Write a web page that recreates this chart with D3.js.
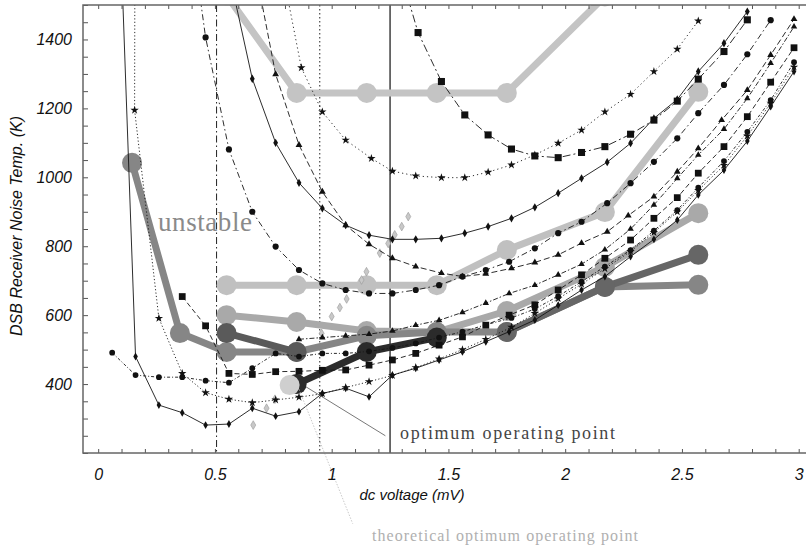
<!DOCTYPE html>
<html lang="en">
<head>
<meta charset="UTF-8">
<title>DSB receiver noise temperature</title>
<style>
  body { margin: 0; background: #fff; }
  .lbl { font-family: "Liberation Sans", Arial, sans-serif; font-style: italic; fill: #111; }
  .note { font-family: "Liberation Serif", "Times New Roman", serif; }
  .frame { fill: none; stroke: #666; stroke-width: 1.5; }
  .tick line { stroke: #555; }
</style>
</head>
<body>
<svg></svg>
<script src="https://d3js.org/d3.v7.min.js"></script>
<script>
// tick labels
const yTicks = [400, 600, 800, 1000, 1200, 1400];
const xTicks = [0, 0.5, 1, 1.5, 2, 2.5, 3];
// vertical reference lines (mV)
const refVolts = [0.507, 0.949, 1.25];

// thin measured curves: [dc voltage (mV), noise temperature (K)]
const curveL1 = [[0.105,1520],[0.16,480],[0.26,339],[0.36,317],[0.46,281],[0.56,284],[0.66,330],[0.76,307],[0.86,320],[0.96,373],[1.06,388],[1.16,363],[1.26,426],[1.36,446],[1.46,470],[1.56,494],[1.66,523],[1.76,552],[1.87,586],[1.97,629],[2.07,673],[2.17,712],[2.28,770],[2.38,820],[2.48,876],[2.57,949],[2.68,1021],[2.78,1105],[2.88,1205],[2.98,1307]];
const curveL2 = [[0.157,1560],[0.156,1195],[0.26,591],[0.36,431],[0.46,375],[0.56,356],[0.66,346],[0.76,354],[0.86,362],[0.96,372],[1.06,390],[1.16,407],[1.26,425],[1.36,448],[1.46,473],[1.56,500],[1.66,530],[1.77,565],[1.87,605],[1.97,648],[2.07,690],[2.17,735],[2.28,785],[2.38,840],[2.48,900],[2.57,962],[2.68,1035],[2.78,1120],[2.88,1215],[2.98,1320]];
const curveL3 = [[0.36,654],[0.46,569],[0.56,431],[0.66,428],[0.76,436],[0.86,437],[0.96,440],[1.06,441],[1.16,455],[1.26,470],[1.36,489],[1.46,513],[1.56,537],[1.66,571],[1.76,600],[1.87,630],[1.97,673],[2.07,717],[2.17,765],[2.28,818],[2.38,881],[2.48,941],[2.57,1012],[2.68,1089],[2.78,1176],[2.88,1276],[2.98,1376]];
const curveL4 = [[0.36,1900],[0.46,1406],[0.56,1081],[0.66,900],[0.76,799],[0.86,731],[0.96,692],[1.06,673],[1.16,663],[1.26,663],[1.36,673],[1.46,687],[1.56,712],[1.66,731],[1.76,755],[1.87,794],[1.97,838],[2.07,871],[2.18,925],[2.28,983],[2.38,1045],[2.48,1113],[2.57,1186],[2.68,1268],[2.78,1357],[2.88,1456]];
const curveL5 = [[0.66,1650],[0.76,1299],[0.86,1094],[0.96,958],[1.06,861],[1.16,806],[1.26,765],[1.36,741],[1.47,722],[1.56,712],[1.66,720],[1.77,736],[1.87,753],[1.97,775],[2.07,809],[2.18,842],[2.27,889],[2.38,944],[2.48,1016],[2.57,1084],[2.67,1166],[2.78,1253],[2.88,1355],[2.98,1459]];
const curveL6 = [[0.56,1595],[0.66,1286],[0.76,1100],[0.86,984],[0.96,910],[1.06,861],[1.16,832],[1.26,820],[1.36,820],[1.47,823],[1.57,838],[1.67,857],[1.77,881],[1.87,913],[1.97,954],[2.07,997],[2.18,1044],[2.28,1099],[2.38,1171],[2.48,1226],[2.57,1307],[2.68,1389],[2.78,1481]];
const curveL7 = [[1.27,1650],[1.37,1420],[1.47,1278],[1.57,1181],[1.67,1123],[1.77,1082],[1.87,1062],[1.97,1057],[2.07,1072],[2.17,1089],[2.28,1125],[2.38,1166],[2.48,1221],[2.57,1285],[2.68,1365],[2.78,1457]];
const curveL8 = [[0.76,1700],[0.87,1318],[0.96,1190],[1.06,1108],[1.17,1055],[1.26,1018],[1.36,1004],[1.47,999],[1.57,999],[1.67,1015],[1.77,1036],[1.87,1065],[1.97,1099],[2.07,1137],[2.17,1190],[2.28,1241],[2.38,1307],[2.48,1372],[2.57,1454]];
const curveL9 = [[0.86,530],[0.96,535],[1.06,540],[1.16,545],[1.26,554],[1.36,571],[1.46,585],[1.56,608],[1.66,635],[1.76,663],[1.87,687],[1.97,717],[2.07,748],[2.17,790],[2.28,850],[2.38,920],[2.48,997],[2.57,1065],[2.68,1140],[2.78,1229],[2.88,1331],[2.98,1437]];
const curveSa = [[0.06,491],[0.16,426],[0.26,420],[0.36,420],[0.46,410],[0.56,404],[0.66,446],[0.76,489],[0.86,480],[0.96,489],[1.06,489],[1.16,495],[1.26,505],[1.36,518],[1.46,535],[1.56,552],[1.66,572],[1.77,592],[1.87,618],[1.97,655],[2.07,697],[2.17,741],[2.28,789],[2.38,845],[2.48,905],[2.57,970],[2.68,1047],[2.78,1132],[2.88,1224],[2.98,1334]];
// theoretical optimum points
const theoryPts = [[0.664,281],[0.721,330],[0.757,356],[0.957,547],[1.0,596],[1.035,622],[1.064,647],[1.128,702],[1.149,726],[1.206,780],[1.242,808],[1.27,833],[1.30,857],[1.328,886]];

// thick grey curves (big circles)
const thickT1 = [[0.55,1528],[0.85,1245],[1.15,1245],[1.45,1245],[1.75,1245],[2.17,1525]];
const thickT2 = [[0.55,687],[0.85,687],[1.15,687],[1.45,687],[1.75,789],[2.17,899],[2.57,1248]];
const thickT3 = [[0.55,600],[0.85,580],[1.15,554],[1.45,551],[1.75,612],[2.17,740],[2.57,896]];
const thickU  = [[0.145,1042],[0.35,548],[0.55,493],[0.85,493],[1.15,540],[1.45,551],[1.75,551],[2.17,682],[2.57,688]];
const thickD2 = [[0.55,548],[0.85,493]];
const thickR  = [[1.75,551],[2.17,682],[2.57,775]];
const thickD1 = [[0.85,400],[1.15,493],[1.45,535]];
const thickPt = [[0.82,397]];

const thickList = [
  {data: thickT1, color: "#c4c4c4"},
  {data: thickT2, color: "#c0c0c0"},
  {data: thickT3, color: "#a9a9a9"},
  {data: thickU,  color: "#868686"},
  {data: thickR,  color: "#666"},
  {data: thickD2, color: "#5a5a5a"},
  {data: thickD1, color: "#2b2b2b"},
  {data: thickPt, color: "#cfcfcf"}
];

const thinList = [
  {data: curveL1, dash: null,          sym: d3.symbolDiamond,  size: 18},
  {data: curveL2, dash: "1.2,2.2",     sym: d3.symbolStar,     size: 22},
  {data: curveL3, dash: "5,3",         sym: d3.symbolSquare,   size: 46},
  {data: curveL4, dash: "6,3,1.5,3",   sym: d3.symbolCircle,   size: 30},
  {data: curveL5, dash: "6,3",         sym: d3.symbolTriangle, size: 20},
  {data: curveL6, dash: null,          sym: d3.symbolDiamond,  size: 20},
  {data: curveL7, dash: "8,3,2,3",     sym: d3.symbolSquare,   size: 50},
  {data: curveL8, dash: "1.2,3",       sym: d3.symbolStar,     size: 22},
  {data: curveL9, dash: "5,2,1.5,2",   sym: d3.symbolTriangle, size: 18},
  {data: curveSa, dash: "3,2,1,2",     sym: d3.symbolCircle,   size: 26}
];

const W = 806, H = 549;
const frame = {left: 83, top: 5, right: 812, bottom: 453};

const x = d3.scaleLinear().domain([-0.065, 3.057]).range([frame.left, frame.right]);
const y = d3.scaleLinear().domain([200, 1500]).range([frame.bottom, frame.top]);

const svg = d3.select("svg").attr("width", W).attr("height", H);

svg.append("defs").append("clipPath").attr("id", "plot")
  .append("rect")
  .attr("x", frame.left).attr("y", frame.top)
  .attr("width", frame.right - frame.left).attr("height", frame.bottom - frame.top);

const plot = svg.append("g").attr("clip-path", "url(#plot)");
const line = d3.line().x(d => x(d[0])).y(d => y(d[1]));

// reference verticals
plot.selectAll(".ref")
  .data(refVolts)
  .enter()
  .append("line")
  .attr("x1", d => x(d)).attr("x2", d => x(d))
  .attr("y1", frame.top).attr("y2", frame.bottom)
  .attr("stroke", "#222")
  .attr("stroke-width", (d, i) => i === 2 ? 1.3 : 1)
  .attr("stroke-dasharray", (d, i) => ["7,3,1.5,3", "1.5,2.5", null][i]);

// thick grey curves
thickList.forEach(s => {
  plot.append("path")
    .datum(s.data)
    .attr("d", line)
    .attr("fill", "none")
    .attr("stroke", s.color)
    .attr("stroke-width", 7)
    .attr("stroke-linejoin", "round");
  plot.selectAll(null)
    .data(s.data)
    .enter()
    .append("circle")
    .attr("cx", d => x(d[0]))
    .attr("cy", d => y(d[1]))
    .attr("r", 10)
    .attr("fill", s.color);
});

// theoretical optimum points
plot.selectAll(".theory")
  .data(theoryPts)
  .enter()
  .append("path")
  .attr("transform", d => `translate(${x(d[0])},${y(d[1])})`)
  .attr("d", d3.symbol().type(d3.symbolDiamond).size(22))
  .attr("fill", "#c8c8c8")
  .attr("stroke", "#999")
  .attr("stroke-width", 0.6);

// thin curves with markers
thinList.forEach(s => {
  plot.append("path")
    .datum(s.data)
    .attr("d", line)
    .attr("fill", "none")
    .attr("stroke", "#151515")
    .attr("stroke-width", 0.9)
    .attr("stroke-dasharray", s.dash);
  plot.selectAll(null)
    .data(s.data)
    .enter()
    .append("path")
    .attr("transform", d => `translate(${x(d[0])},${y(d[1])})`)
    .attr("d", d3.symbol().type(s.sym).size(s.size))
    .attr("fill", "#111");
});

// annotation pointers
plot.append("line")
  .attr("x1", x(0.89)).attr("y1", y(392))
  .attr("x2", x(1.23)).attr("y2", y(250))
  .attr("stroke", "#555").attr("stroke-width", 0.8);
svg.append("line")
  .attr("x1", x(0.86)).attr("y1", y(385))
  .attr("x2", x(1.09)).attr("y2", y(-5))
  .attr("stroke", "#bbb").attr("stroke-width", 0.8)
  .attr("stroke-dasharray", "1.5,1.5");

// axes: minor ticks inside the frame
const xMinor = d3.range(0, 31).map(i => i / 10);
const yMinor = d3.range(200, 1501, 50);

function clean(g) { g.select(".domain").remove(); }

svg.append("g")
  .attr("transform", `translate(0,${frame.bottom})`)
  .call(d3.axisBottom(x).tickValues(xMinor).tickSize(-4).tickFormat(""))
  .call(clean);
svg.append("g")
  .attr("transform", `translate(0,${frame.top})`)
  .call(d3.axisTop(x).tickValues(xMinor).tickSize(-4).tickFormat(""))
  .call(clean);
svg.append("g")
  .attr("transform", `translate(${frame.left},0)`)
  .call(d3.axisLeft(y).tickValues(yMinor).tickSize(-5).tickFormat(""))
  .call(clean);

// labels
svg.append("g")
  .attr("transform", `translate(0,${frame.bottom})`)
  .call(d3.axisBottom(x).tickValues(xTicks).tickSize(0).tickPadding(16).tickFormat(d3.format("")))
  .call(clean)
  .selectAll("text")
  .attr("class", "lbl")
  .style("font-size", "16px");

svg.append("g")
  .attr("transform", `translate(${frame.left},0)`)
  .call(d3.axisLeft(y).tickValues(yTicks).tickSize(0).tickPadding(11).tickFormat(d3.format("d")))
  .call(clean)
  .selectAll("text")
  .attr("class", "lbl")
  .style("font-size", "16px");

svg.append("rect")
  .attr("class", "frame")
  .attr("x", frame.left).attr("y", frame.top)
  .attr("width", frame.right - frame.left).attr("height", frame.bottom - frame.top);

svg.append("text")
  .attr("class", "lbl")
  .attr("x", 412).attr("y", 500)
  .attr("text-anchor", "middle")
  .style("font-size", "15px")
  .text("dc voltage (mV)");

svg.append("text")
  .attr("class", "lbl")
  .attr("transform", "translate(22,226) rotate(-90)")
  .attr("text-anchor", "middle")
  .style("font-size", "16px")
  .text("DSB Receiver Noise Temp. (K)");

svg.append("text")
  .attr("class", "note")
  .attr("x", 158).attr("y", 231)
  .attr("fill", "#8a8a8a")
  .attr("textLength", 94)
  .style("font-size", "27px")
  .text("unstable");

svg.append("text")
  .attr("class", "note")
  .attr("x", 400).attr("y", 439)
  .attr("fill", "#444")
  .attr("textLength", 215)
  .style("font-size", "18px")
  .text("optimum operating point");

svg.append("text")
  .attr("class", "note")
  .attr("x", 372).attr("y", 541)
  .attr("fill", "#b0b0b0")
  .attr("textLength", 266)
  .style("font-size", "16px")
  .text("theoretical optimum operating point");
</script>
</body>
</html>
